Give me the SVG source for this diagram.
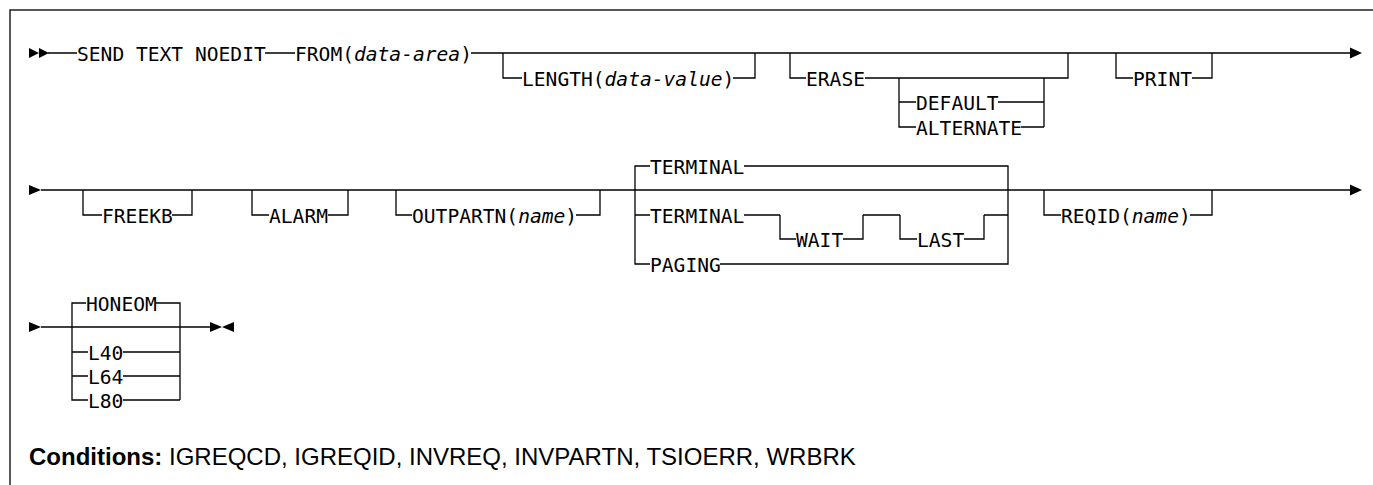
<svg xmlns="http://www.w3.org/2000/svg" width="1373" height="485" viewBox="0 0 1373 485">
<style>
.l{fill:none;stroke:#000;stroke-width:1.3}
.fr{fill:none;stroke:#222;stroke-width:1.5}
.a{fill:#000}
.t{font-family:"DejaVu Sans Mono",monospace;font-size:19.6px;fill:#000}
.i{font-style:italic}
.c{font-family:"Liberation Sans",Arial,sans-serif;font-size:24px;fill:#000}
</style>
<rect width="1373" height="485" fill="#fff"/>
<g id="frame"><path class="fr" d="M10 485V10H1373"/></g>
<g id="connectors">
<path class="l" d="M48 53H77M265 53H295M471 53H1350"/>
<path class="a" d="M29 48L39 53L29 58ZM39 48L49 53L39 58ZM1350 47.5L1362 53L1350 58.5Z"/>
<path class="l" d="M41 190H1350"/>
<path class="a" d="M29 185L41 190L29 195ZM1350 184.5L1362 190L1350 195.5Z"/>
<path class="l" d="M41 327H210"/>
<path class="a" d="M29 322L41 327L29 332ZM210 322L222 327L210 332ZM234 322L222 327L234 332Z"/>
</g>
<g id="n-send"><text class="t" x="77" y="60.5">SEND TEXT NOEDIT</text></g>
<g id="n-from"><text class="t" x="295" y="60.5">FROM(<tspan class="i">data-area</tspan>)</text></g>
<g id="n-length"><path class="l" d="M503 53V78H522M733 78H755V53"/><text class="t" x="522" y="85.5">LENGTH(<tspan class="i">data-value</tspan>)</text></g>
<g id="n-erase"><path class="l" d="M790 53V78H806M865 78H1068V53M899 78V127H916M899 102H916M998 102H1044M1021 127H1044M1044 78V127"/>
<text class="t" x="806" y="85.5">ERASE</text><text class="t" x="916" y="109.5">DEFAULT</text><text class="t" x="916" y="134.5">ALTERNATE</text></g>
<g id="n-print"><path class="l" d="M1116 53V78H1133M1192 78H1212V53"/><text class="t" x="1133" y="85.5">PRINT</text></g>
<g id="n-freekb"><path class="l" d="M83 190V215H102M172 215H192V190"/><text class="t" x="102" y="222.5">FREEKB</text></g>
<g id="n-alarm"><path class="l" d="M252 190V215H269M328 215H348V190"/><text class="t" x="269" y="222.5">ALARM</text></g>
<g id="n-outpartn"><path class="l" d="M396 190V215H412M576 215H600V190"/><text class="t" x="412" y="222.5">OUTPARTN(<tspan class="i">name</tspan>)</text></g>
<g id="n-terminal"><path class="l" d="M650 166H635V264H650M744 166H1008V264H720M635 215H650M744 215H780M863 215H900M984 215H1008"/>
<text class="t" x="650" y="173.5">TERMINAL</text><text class="t" x="650" y="222.5">TERMINAL</text><text class="t" x="650" y="271.5">PAGING</text></g>
<g id="n-wait"><path class="l" d="M780 215V239H796M843 239H863V215"/><text class="t" x="796" y="246.5">WAIT</text></g>
<g id="n-last"><path class="l" d="M900 215V239H917M964 239H984V215"/><text class="t" x="917" y="246.5">LAST</text></g>
<g id="n-reqid"><path class="l" d="M1044 190V215H1061M1190 215H1212V190"/><text class="t" x="1061" y="222.5">REQID(<tspan class="i">name</tspan>)</text></g>
<g id="n-honeom"><path class="l" d="M86 303H72V400H88M156 303H180V400M72 352H88M72 376H88M123 352H180M123 376H180M123 400H180"/>
<text class="t" x="86" y="310.5">HONEOM</text><text class="t" x="88" y="359.5">L40</text><text class="t" x="88" y="383.5">L64</text><text class="t" x="88" y="407.5">L80</text></g>
<g id="conditions"><text class="c" x="29" y="465"><tspan font-weight="bold">Conditions:</tspan> IGREQCD, IGREQID, INVREQ, INVPARTN, TSIOERR, WRBRK</text></g>
</svg>
